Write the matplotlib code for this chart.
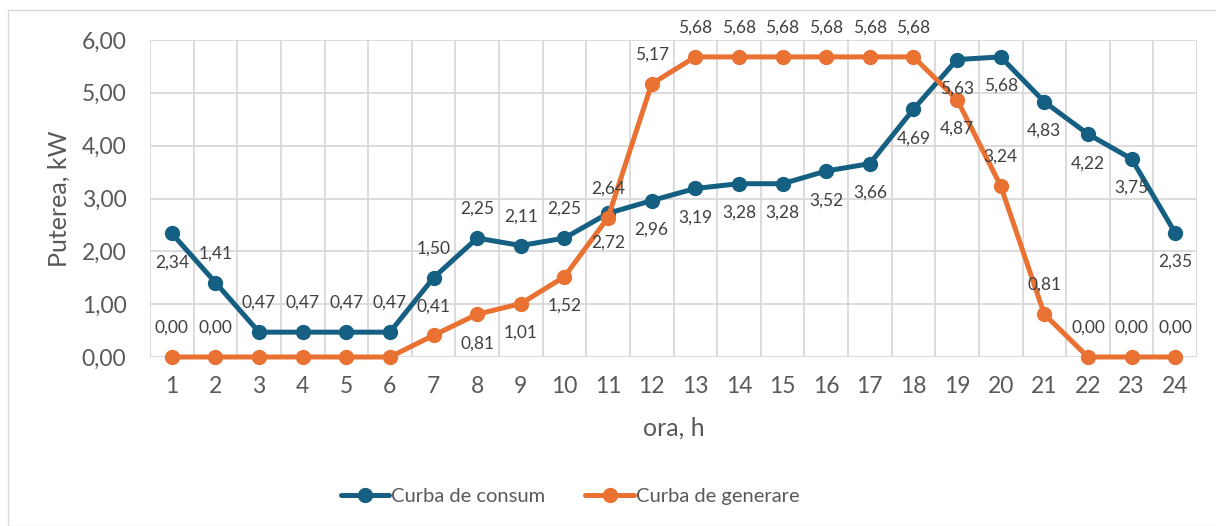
import matplotlib
matplotlib.use("Agg")
import matplotlib.pyplot as plt
from matplotlib.patches import Rectangle

hours = list(range(1, 25))
consum = [2.34, 1.41, 0.47, 0.47, 0.47, 0.47, 1.50, 2.25, 2.11, 2.25, 2.72, 2.96,
          3.19, 3.28, 3.28, 3.52, 3.66, 4.69, 5.63, 5.68, 4.83, 4.22, 3.75, 2.35]
generare = [0.00, 0.00, 0.00, 0.00, 0.00, 0.00, 0.41, 0.81, 1.01, 1.52, 2.64, 5.17,
            5.68, 5.68, 5.68, 5.68, 5.68, 5.68, 4.87, 3.24, 0.81, 0.00, 0.00, 0.00]
# label placement: 1 = above, -1 = below, 0 = hidden
consum_pos = [-1, 1, 1, 1, 1, 1, 1, 1, 1, 1, -1, -1,
              -1, -1, -1, -1, -1, -1, -1, -1, -1, -1, -1, -1]
gen_pos = [1, 1, 0, 0, 0, 0, 1, -1, -1, -1, 1, 1,
           1, 1, 1, 1, 1, 1, -1, 1, 1, 1, 1, 1]
yticks = [0, 1, 2, 3, 4, 5, 6]

BLUE = "#156082"
ORANGE = "#E97132"
TXT = "#595959"
GRID = "#D9D9D9"
FONT = ["Lato", "DejaVu Sans"]
plt.rcParams['font.family'] = FONT

W, H = 1216, 526
fig = plt.figure(figsize=(W / 100, H / 100), dpi=100)
fig.patches.append(Rectangle((8 / W, 0), 1.2, 1 - 10 / H, transform=fig.transFigure,
                             fill=False, edgecolor=GRID, linewidth=1))
ax = fig.add_axes([150 / W, 1 - 357 / H, (1197 - 150) / W, (357 - 40) / H])

ax.plot(hours, consum, color=BLUE, lw=3.6, marker='o', ms=10, label="Curba de consum",
        solid_capstyle='round', zorder=3, clip_on=False)
ax.plot(hours, generare, color=ORANGE, lw=3.6, marker='o', ms=10, label="Curba de generare",
        solid_capstyle='round', zorder=3, clip_on=False)

def fmt(v):
    return f"{v:.2f}".replace(".", ",")

for series, pos in ((consum, consum_pos), (generare, gen_pos)):
    for x, v, p in zip(hours, series, pos):
        if p == 0:
            continue
        ax.annotate(fmt(v), (x, v), xytext=(0, 21 * p), textcoords='offset points',
                    ha='center', va='center', fontsize=12.5, color="#404040", zorder=4,
                    annotation_clip=False)

ax.set_xlim(0.5, 24.5)
ax.set_ylim(0, 6)
ax.set_yticks(yticks)
ax.set_yticklabels([fmt(t) for t in yticks])
ax.set_xticks(hours)
ax.set_xticks([h + 0.5 for h in range(0, 25)], minor=True)
ax.tick_params(axis='both', which='both', length=0, labelsize=16.5, colors=TXT)
ax.tick_params(axis='x', which='major', pad=14)
ax.tick_params(axis='y', pad=17)
ax.grid(True, axis='y', which='major', color=GRID, lw=1.3)
ax.grid(True, axis='x', which='minor', color=GRID, lw=1.3)
ax.set_axisbelow(True)
for s in ax.spines.values():
    s.set_visible(False)

ax.set_ylabel("Puterea, kW", fontsize=18, color=TXT, labelpad=8)
ax.set_xlabel("ora, h", fontsize=18, color=TXT, labelpad=14)

leg = fig.legend(loc='center', bbox_to_anchor=(570 / W, 1 - 496 / H), ncol=2, frameon=False,
                 fontsize=14.5, labelcolor=TXT, handlelength=2.4, handletextpad=0.1,
                 columnspacing=2.0)

fig.savefig("out.png", dpi=100)
